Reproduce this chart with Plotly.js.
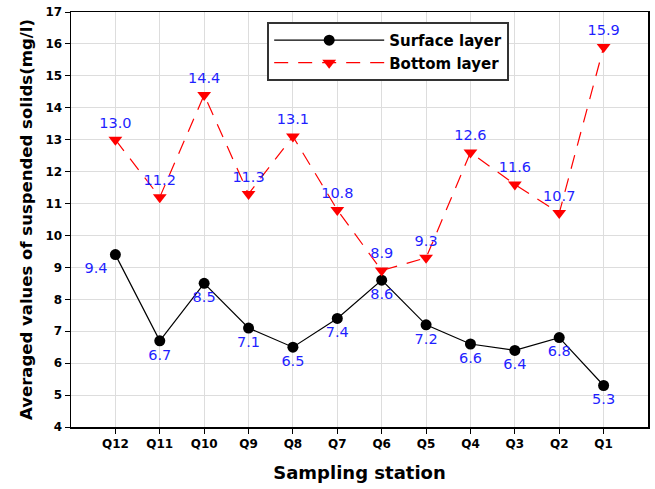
<!DOCTYPE html>
<html>
<head>
<meta charset="utf-8">
<script src="https://cdn.plot.ly/plotly-3.0.1.min.js"></script>
<style>html,body{margin:0;padding:0;background:#fff;}#chart{width:655px;height:489px;}</style>
</head>
<body>
<div id="chart"></div>
<script>
const stations = ["Q12","Q11","Q10","Q9","Q8","Q7","Q6","Q5","Q4","Q3","Q2","Q1"];
const surface = [9.4, 6.7, 8.5, 7.1, 6.5, 7.4, 8.6, 7.2, 6.6, 6.4, 6.8, 5.3];
const bottom = [13.0, 11.2, 14.4, 11.3, 13.1, 10.8, 8.9, 9.3, 12.6, 11.6, 10.7, 15.9];
const yTicks = [4,5,6,7,8,9,10,11,12,13,14,15,16,17];
const seriesNames = ["Surface layer", "Bottom layer"];

const fontFam = "DejaVu Sans, Verdana, sans-serif";
const xIdx = stations.map((s, i) => i);

const traces = [
  {
    x: xIdx, y: surface, name: seriesNames[0],
    mode: "lines+markers+text",
    text: surface.map(v => v.toFixed(1)),
    textposition: surface.map((v, i) => i === 0 ? "bottom left" : "bottom center"),
    textfont: {family: fontFam, size: 14.5, color: "#1f1fff"},
    line: {color: "#000", width: 1.2},
    marker: {symbol: "circle", size: 11, color: "#000"},
    cliponaxis: false
  },
  {
    x: xIdx, y: bottom, name: seriesNames[1],
    mode: "lines+markers+text",
    text: bottom.map(v => v.toFixed(1)),
    textposition: "top center",
    textfont: {family: fontFam, size: 14.5, color: "#1f1fff"},
    line: {color: "#ff0000", width: 1.2, dash: "14px,10px"},
    marker: {symbol: "triangle-down", size: 12, color: "#ff0000"},
    cliponaxis: false
  }
];

const layout = {
  width: 655, height: 489,
  margin: {l: 71, r: 7, t: 12, b: 62},
  paper_bgcolor: "#fff", plot_bgcolor: "#fff",
  showlegend: true,
  legend: {
    x: 0.34, y: 0.976, xanchor: "left", yanchor: "top",
    bgcolor: "#fff", bordercolor: "#333", borderwidth: 2,
    font: {family: fontFam, size: 15, color: "#000", weight: "bold"},
    itemwidth: 110,
    tracegroupgap: 0
  },
  xaxis: {
    range: [-1, 12],
    tickmode: "array", tickvals: xIdx, ticktext: stations,
    tickfont: {family: fontFam, size: 12, color: "#000", weight: "bold"},
    ticks: "outside", ticklen: 5, tickcolor: "#000", tickwidth: 1,
    showline: true, linecolor: "#000", linewidth: 1.5, mirror: true,
    showgrid: true, gridcolor: "#dddddd", gridwidth: 1,
    zeroline: false,
    title: {text: "Sampling station", font: {family: fontFam, size: 18, color: "#000", weight: "bold"}, standoff: 16}
  },
  yaxis: {
    range: [4, 17],
    tickmode: "array", tickvals: yTicks,
    tickfont: {family: fontFam, size: 12, color: "#000", weight: "bold"},
    ticks: "outside", ticklen: 5, tickcolor: "#000", tickwidth: 1,
    showline: true, linecolor: "#000", linewidth: 1.5, mirror: true,
    showgrid: true, gridcolor: "#dddddd", gridwidth: 1,
    zeroline: false,
    title: {text: "Averaged values of suspended solids(mg/l)", font: {family: fontFam, size: 16.5, color: "#000", weight: "bold"}, standoff: 8}
  }
};

Plotly.newPlot("chart", traces, layout, {displayModeBar: false, staticPlot: true});
</script>
</body>
</html>
